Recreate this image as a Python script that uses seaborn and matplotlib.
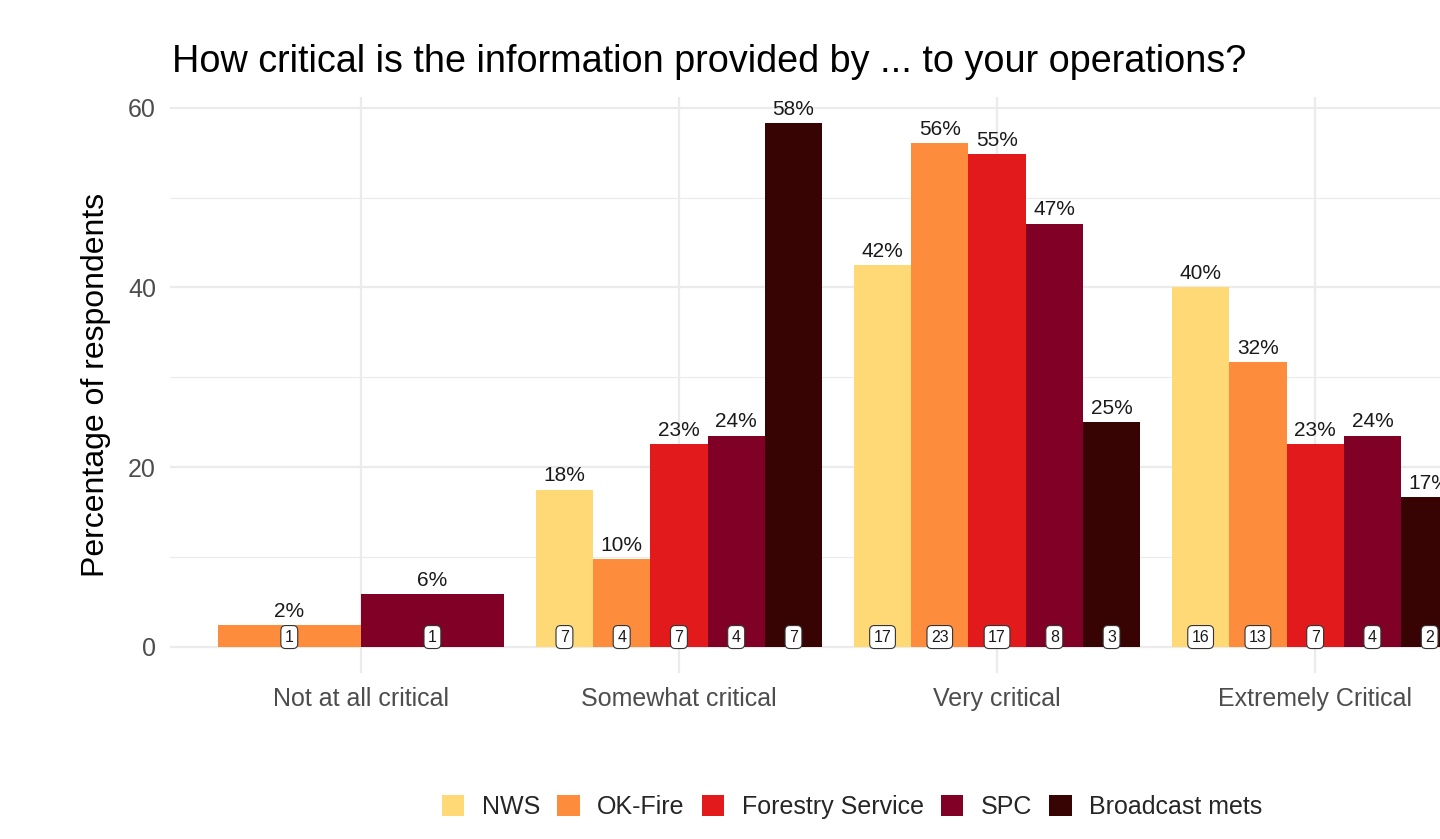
import matplotlib
matplotlib.use("Agg")
import matplotlib.pyplot as plt
from matplotlib.patches import Patch
from matplotlib.ticker import MultipleLocator
import seaborn as sns
import pandas as pd

categories = ["Not at all critical", "Somewhat critical", "Very critical", "Extremely Critical"]
sources = ["NWS", "OK-Fire", "Forestry Service", "SPC", "Broadcast mets"]
colors = ["#FED976", "#FD8D3C", "#E31A1C", "#800026", "#380303"]

# percentages per source, in category order (None = no bar)
nws_pct = [None, 17.5, 42.5, 40.0]
okfire_pct = [2.4, 9.8, 56.1, 31.7]
forestry_pct = [None, 22.6, 54.8, 22.6]
spc_pct = [5.9, 23.5, 47.1, 23.5]
broadcast_pct = [None, 58.3, 25.0, 16.7]

# respondent counts
nws_n = [None, 7, 17, 16]
okfire_n = [1, 4, 23, 13]
forestry_n = [None, 7, 17, 7]
spc_n = [1, 4, 8, 4]
broadcast_n = [None, 7, 3, 2]

pct = [nws_pct, okfire_pct, forestry_pct, spc_pct, broadcast_pct]
cnt = [nws_n, okfire_n, forestry_n, spc_n, broadcast_n]
rows = []
for s, p_list, n_list in zip(sources, pct, cnt):
    for c, p, n in zip(categories, p_list, n_list):
        if p is not None:
            rows.append({"cat": c, "src": s, "pct": p, "n": n})
df = pd.DataFrame(rows)
pal = dict(zip(sources, colors))

sns.set_theme(style="whitegrid")
plt.rcParams["font.family"] = ["Liberation Sans", "DejaVu Sans"]

fig = plt.figure(figsize=(14.4, 8.39), dpi=100)
ax = fig.add_axes([170/1440, (839-673)/839, (1506-170)/1440, (673-97)/839])

for c in categories:
    sub = df[df["cat"] == c]
    present = [s for s in sources if s in set(sub["src"])]
    n_before = len(ax.containers)
    sns.barplot(data=sub, x="cat", y="pct", hue="src", order=categories,
                hue_order=present, palette=pal, width=0.9, dodge=True,
                ax=ax, legend=False, errorbar=None, saturation=1, linewidth=0)
    for cont, s in zip(ax.containers[n_before:], present):
        r = sub[sub["src"] == s].iloc[0]
        ax.bar_label(cont, labels=[f"{round(r['pct'])}%"], padding=3,
                     fontsize=15, color="#1a1a1a")
        for rect in cont:
            ax.annotate(str(int(r["n"])), xy=(rect.get_x() + rect.get_width()/2, 0),
                        xytext=(0, 7), textcoords="offset points",
                        ha="center", va="center", fontsize=11.5, color="#1a1a1a",
                        bbox=dict(boxstyle="round,pad=0.25,rounding_size=0.3",
                                  fc="white", ec="#333333", lw=0.8))

ax.set_xlim(-0.6, 3.6)
ax.set_ylim(-2.92, 61.2)
ax.yaxis.set_major_locator(MultipleLocator(20))
ax.yaxis.set_minor_locator(MultipleLocator(10))
ax.grid(which="major", axis="both", color="#EBEBEB", lw=1.6)
ax.grid(which="minor", axis="y", color="#EBEBEB", lw=0.8)
ax.set_axisbelow(True)
for sp in ax.spines.values():
    sp.set_visible(False)
ax.tick_params(axis="both", which="both", length=0, labelsize=18, labelcolor="#4D4D4D")
ax.tick_params(axis="y", pad=10)
ax.tick_params(axis="x", pad=10)
ax.set_xlabel("")
ax.set_ylabel("Percentage of respondents", fontsize=23, color="black", labelpad=12)

fig.text(172/1440, 1 - 62/839, "How critical is the information provided by ... to your operations?",
         fontsize=27.2, ha="left", va="center", color="black")

handles = [Patch(facecolor=pal[s], edgecolor="none", label=s) for s in sources]
fig.legend(handles=handles, loc="center", bbox_to_anchor=(852/1440, 1 - 807/839),
           ncol=5, frameon=False, fontsize=18, handlelength=0.9, handleheight=0.9,
           handletextpad=0.7, columnspacing=0.68)

fig.savefig("out.png", dpi=100)
